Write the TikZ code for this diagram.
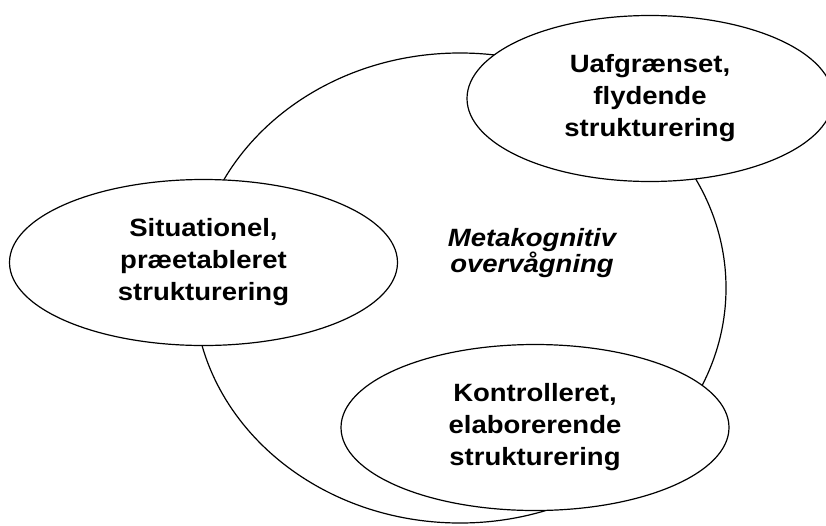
\documentclass[tikz,border=0pt]{standalone}
\usepackage{fontspec}
\setmainfont{Liberation Sans}[FakeStretch=1.1]
\usetikzlibrary{shapes.geometric}
\begin{document}
\begin{tikzpicture}[x=1pt,y=-1pt,
    ring/.style={ellipse,draw,line width=1.2pt,inner sep=0pt},
    part/.style={ring,fill=white,minimum width=388pt,minimum height=166pt,
      align=center,font=\bfseries\fontsize{25}{32}\selectfont}]
      \useasboundingbox (0,0) rectangle (826,525);
      \node[ring,minimum width=532pt,minimum height=470pt] (meta) at (460,288) {};
      \node[align=center,font=\bfseries\itshape\fontsize{25}{26}\selectfont]
        (metatext) at (532,253) {Metakognitiv\\overvågning};
      \draw
        (650,98.5) node[part,minimum width=366pt] (flyd){Uafgrænset,\\flydende\\strukturering}
        (203.5,262.5) node[part] (situ){Situationel,\\præetableret\\strukturering}
        (535,427.5) node[part] (kontr){Kontrolleret,\\elaborerende\\strukturering};
    \end{tikzpicture}
\end{document}
